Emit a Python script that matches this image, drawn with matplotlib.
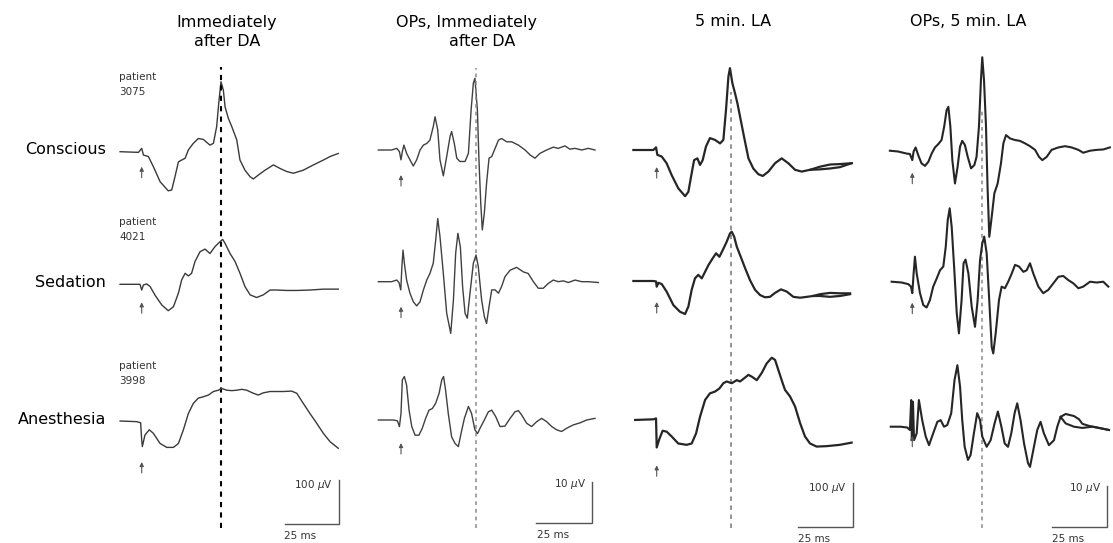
import numpy as np
import matplotlib.pyplot as plt

# Traces: (time after flash in ms, amplitude in µV)
# a/b-wave columns (100 µV scale) and OP columns (10 µV scale)
C1_CONSCIOUS = [(-10.0, 0), (-1.5, -1.5), (0, 7.6), (0.8, -7.6), (3.1, -11), (5.4, -34), (8.5, -68),
                (12.3, -89), (13.9, -87), (15.4, -57), (17.0, -23), (18.5, -19), (20.1, -15), (21.6, 4),
                (23.9, 19), (26.2, 30), (28.5, 28), (31.6, 15), (33.2, 19), (34.7, 57), (35.8, 117),
                (36.7, 159), (37.8, 140), (38.6, 102), (40.1, 76), (41.7, 57), (44.0, 27), (45.5, -19),
                (47.8, -42), (50.2, -57), (51.7, -62), (54.0, -53), (57.1, -42), (61.0, -30), (64.0, -38),
                (67.1, -45), (70.2, -49), (74.8, -42), (79.5, -30), (84.1, -19), (87.2, -11), (91.0, -4)]
C1_SEDATION = [(-10.0, 0), (-0.8, 0), (0, -13), (0.8, -1.5), (2.3, 0.8), (3.9, -5), (6.2, -25), (9.3, -47),
               (12.3, -60), (14.7, -51), (17.0, -20), (18.5, 10), (20.1, 25), (21.6, 19), (23.1, 25),
               (24.7, 52), (27.0, 74), (29.3, 80), (31.6, 70), (34.0, 86), (36.3, 97), (37.5, 102),
               (38.6, 93), (40.9, 70), (43.2, 52), (45.5, 25), (47.8, -5), (50.2, -24), (53.2, -30),
               (56.3, -24), (59.4, -13), (62.5, -13), (67.1, -14), (71.8, -14), (77.9, -13), (84.1, -11),
               (91.0, -11)]
C1_ANESTHESIA = [(-10.0, 0), (-2.3, -1.5), (-0.5, -4), (0, -43), (0.3, -58), (1.5, -32), (3.5, -20),
                 (5.4, -28), (8.5, -51), (11.6, -60), (14.7, -60), (17.0, -51), (19.3, -20), (21.6, 17),
                 (23.9, 40), (26.2, 52), (28.5, 55), (30.9, 59), (33.2, 67), (35.5, 70), (37.0, 74),
                 (39.4, 70), (41.7, 69), (44.0, 70), (46.3, 72), (48.6, 70), (51.7, 63), (54.0, 59),
                 (56.3, 64), (59.4, 67), (65.6, 67), (69.4, 68), (71.8, 63), (74.8, 40), (77.9, 17),
                 (81.0, -5), (84.1, -28), (87.2, -47), (91.0, -62)]

C2_CONSCIOUS = [(-10.1, 0), (-4.2, 0), (-1.9, 0.4), (-0.7, -0.4), (0, -2.4), (0.6, -0.4), (1.3, 1.2),
                (2.5, -0.8), (4.0, -2.4), (5.5, -3.9), (7.0, -2.4), (8.5, 0), (10.0, 1.2), (11.5, 1.6),
                (12.9, 2.4), (14.4, 5.7), (15.2, 8.1), (16.4, 4.9), (17.4, -2.4), (18.9, -6.3), (20.4, -1.6),
                (21.9, 3.3), (22.6, 4.5), (23.8, 1.6), (24.9, -2.0), (26.3, -2.8), (28.6, -2.8), (30.1, -0.8),
                (31.3, 9.8), (32.3, 16.3), (33.0, 17.5), (34.1, 9.8), (34.8, -2.4), (35.6, -12.9),
                (36.3, -19.5), (37.2, -15.4), (38.2, -8.1), (39.3, -2.0), (40.5, -1.6), (42.0, 0.4),
                (43.5, 2.4), (44.9, 2.8), (47.2, 2.0), (49.4, 2.0), (52.4, 1.2), (55.4, 0), (57.6, -1.2),
                (59.8, -2.0), (62.1, -0.8), (65.0, 0), (68.0, 0.7), (70.2, 0.4), (73.2, 1.0), (75.4, 0.2),
                (77.7, 0.4), (80.7, 0), (83.6, 0.4), (86.6, 0)]
C2_SEDATION = [(-10.1, 0), (-4.2, 0), (-1.9, 0.4), (-0.9, -0.2), (-0.1, -2.0), (0.4, 3.7), (0.9, 7.7),
               (1.5, 4.5), (2.5, 0.4), (4.0, -2.8), (5.5, -4.9), (7.0, -5.9), (8.5, -4.9), (10.0, -2.0),
               (11.5, 0.4), (12.9, 2.0), (14.4, 4.5), (15.5, 10.2), (16.4, 15.4), (17.4, 11.0), (18.9, 2.0),
               (20.4, -7.7), (22.2, -12.6), (23.4, -4.5), (24.4, 6.9), (25.4, 11.8), (26.5, 8.5),
               (27.5, -1.2), (28.6, -7.7), (29.6, -8.9), (30.8, -2.8), (32.3, 4.5), (33.5, 6.5), (34.5, 3.7),
               (36.0, -4.5), (37.2, -8.5), (38.2, -10.2), (39.3, -6.1), (40.5, -2.0), (42.0, -2.0),
               (43.5, -2.8), (44.9, -1.2), (46.4, 1.2), (48.7, 2.8), (51.6, 3.5), (54.6, 2.4), (56.8, 2.0),
               (59.1, 0), (61.3, -1.6), (63.5, -1.6), (65.8, -0.4), (68.0, 0.4), (70.2, 0), (72.5, 0.2),
               (74.7, -0.2), (77.7, 0.4), (80.7, 0), (83.6, 0), (88.1, -0.2)]
C2_ANESTHESIA = [(-10.1, 0), (-3.4, 0), (-1.6, -0.2), (-0.7, -1.6), (0, 1.6), (0.6, 9.8), (1.5, 10.6),
                 (2.5, 8.5), (3.6, 2.4), (4.8, -1.6), (6.3, -3.7), (8.0, -3.7), (9.5, -2.0), (11.0, 0.4),
                 (12.5, 2.4), (14.0, 2.8), (15.5, 4.1), (17.0, 6.5), (18.2, 9.8), (19.0, 10.6), (19.9, 7.3),
                 (21.1, 1.6), (22.6, -4.1), (24.1, -5.7), (25.6, -6.5), (26.8, -3.3), (28.3, 0.4),
                 (30.1, 3.3), (31.5, 1.6), (33.0, -2.4), (34.2, -3.3), (35.3, -2.0), (37.2, 0), (39.0, 2.0),
                 (40.5, 2.4), (42.3, 0.8), (44.2, -1.6), (46.4, -1.5), (48.7, 0.4), (50.9, 2.0), (52.4, 2.3),
                 (53.9, 1.2), (56.1, -0.8), (58.3, -1.6), (60.6, -0.4), (62.8, 0.4), (65.0, -0.4),
                 (67.3, -1.6), (69.5, -2.4), (71.7, -2.8), (74.0, -2.0), (76.9, -1.2), (79.9, -0.7),
                 (82.9, 0), (86.6, 0.4)]

C3_CONSCIOUS = [(-10.6, 0), (-1.5, 0), (-0.3, 6), (0.3, -11), (2.3, -15), (4.5, -30), (6.8, -57), (9.8, -87),
                (12.9, -105), (14.4, -95), (15.6, -61), (17.0, -23), (18.5, -19), (19.7, -34), (20.9, -23),
                (22.4, 8), (24.2, 27), (26.5, 23), (28.8, 15), (30.3, 23), (31.5, 91), (32.6, 167),
                (33.3, 186), (34.4, 152), (35.6, 129), (36.7, 106), (38.2, 68), (39.7, 30), (41.7, -19),
                (43.9, -42), (46.2, -55), (48.2, -59), (50.8, -49), (53.8, -30), (56.8, -19), (59.8, -30),
                (62.9, -45), (65.9, -49), (69.7, -45), (74.2, -44), (78.8, -42), (83.3, -39), (88.6, -30)]
C3_CONSCIOUS_B = [(69.7, -45), (74.2, -38), (78.8, -33), (83.3, -32), (88.6, -30)]
C3_SEDATION = [(-10.6, 0), (-1.5, 0), (-0.3, -1), (0, -13), (0.8, -4), (2.3, -7), (4.5, -24), (7.6, -55),
               (10.6, -70), (12.9, -75), (14.4, -58), (15.9, -20), (17.4, 6), (18.9, 14), (20.5, 6),
               (22.0, 21), (23.5, 36), (25.5, 52), (27.0, 63), (28.5, 55), (30.0, 70), (31.8, 89),
               (33.3, 108), (34.1, 112), (35.2, 101), (36.4, 78), (38.2, 55), (40.2, 29), (42.4, 2),
               (44.7, -20), (47.0, -32), (49.2, -37), (51.5, -36), (53.8, -27), (56.5, -19), (59.1, -24),
               (62.1, -36), (65.2, -38), (68.2, -36), (71.2, -34), (74.2, -30), (78.8, -27), (83.3, -28),
               (87.9, -28)]
C3_SEDATION_B = [(71.2, -34), (74.2, -34), (78.8, -36), (83.3, -34), (87.9, -30)]
C3_ANESTHESIA = [(-9.8, -1.5), (-1.5, 0), (-0.3, 2), (0, -64), (1.2, -45), (2.7, -26), (4.5, -28),
                 (6.8, -39), (9.8, -55), (13.6, -58), (15.9, -55), (17.9, -32), (19.7, 6), (22.0, 44),
                 (24.2, 59), (26.5, 63), (28.5, 70), (30.3, 82), (31.8, 86), (34.1, 82), (36.4, 89),
                 (37.9, 86), (39.7, 93), (41.7, 101), (43.2, 97), (45.5, 89), (47.7, 105), (50.0, 127),
                 (52.3, 140), (53.8, 135), (55.3, 112), (56.8, 89), (58.3, 67), (60.6, 52), (62.9, 29),
                 (65.2, -9), (67.4, -39), (69.7, -55), (72.7, -62), (77.3, -61), (83.3, -58), (88.6, -53)]

C4_CONSCIOUS = [(-10.2, 0), (-6.4, -0.2), (-2.6, -0.7), (-1.1, -0.8), (0, -2.3), (0.6, -0.2), (1.5, 0.8),
                (2.7, -1.1), (4.2, -3.1), (5.8, -3.7), (7.3, -2.7), (8.8, -0.7), (10.3, 0.8), (11.8, 1.6),
                (13.3, 2.6), (14.5, 5.9), (15.6, 9.9), (16.4, 10.7), (17.3, 5.9), (18.2, -2.3), (19.4, -8.0),
                (20.6, -3.9), (21.7, 1.0), (22.7, 2.4), (23.9, 1.4), (25.2, -1.5), (26.7, -4.3),
                (28.2, -3.5), (29.2, -1.5), (30.3, 5.9), (31.2, 17.2), (31.8, 22.8), (32.6, 17.2),
                (33.5, 5.9), (34.2, -8.8), (35.0, -21.0), (36.1, -16.1), (37.3, -10.4), (38.8, -8.0),
                (40.3, -3.1), (41.4, 1.8), (42.6, 3.8), (44.4, 3.0), (46.7, 2.6), (48.9, 2.4), (51.2, 1.8),
                (53.5, 1.1), (55.8, 0.2), (57.6, -1.5), (59.1, -2.3), (61.1, -1.5), (63.3, 0.2), (66.4, 0.8),
                (69.4, 1.1), (72.4, 0.8), (75.5, 0.2), (77.7, -0.5), (80.8, 0), (83.8, 0.2), (86.8, 0.3),
                (89.8, 0.8)]
C4_SEDATION = [(-9.4, 0), (-4.8, -0.2), (-1.8, -0.6), (-0.6, -1.2), (0, -2.8), (0.6, 2.0), (1.2, 6.1),
               (2.0, 2.0), (3.5, -2.8), (5.0, -5.7), (6.5, -6.3), (8.0, -4.5), (9.5, -1.2), (11.1, 0.8),
               (12.6, 2.8), (14.1, 3.7), (15.2, 8.5), (16.1, 15.0), (17.0, 17.9), (17.9, 13.4), (19.1, 2.8),
               (20.2, -7.7), (21.2, -12.6), (22.4, -4.5), (23.3, 4.5), (24.2, 5.4), (25.5, 2.0),
               (27.0, -6.1), (28.5, -11.0), (29.7, -4.5), (30.8, 5.3), (31.8, 9.3), (32.7, 11.0),
               (33.8, 6.9), (34.8, -2.8), (36.1, -15.9), (36.8, -17.5), (37.9, -12.6), (39.4, -4.5),
               (40.6, -1.2), (42.1, -1.6), (43.6, 0), (45.2, 2.0), (46.7, 4.1), (48.5, 3.7), (50.5, 2.4),
               (52.0, 2.8), (53.5, 4.5), (55.0, 2.0), (57.3, -1.2), (59.5, -2.8), (61.8, -2.0),
               (64.1, -0.4), (66.4, 1.2), (68.6, 1.4), (70.9, 0.4), (73.2, -0.4), (75.5, -1.6),
               (77.7, -1.2), (80.8, 0), (83.8, -0.2), (86.8, 0), (89.1, -1.2)]
C4_ANESTHESIA = [(-9.8, 0), (-5.3, 0), (-2.3, -0.2), (-1.1, -0.8), (-0.5, 6.5), (-0.2, -3.3), (0.3, 6.1),
                 (0.8, -3.3), (2.0, -1.6), (3.0, 6.5), (4.5, 1.6), (6.1, -2.4), (7.6, -4.5), (9.5, -1.6),
                 (11.4, 1.2), (12.9, 1.6), (14.4, 0), (15.9, 0.4), (17.7, 3.3), (19.2, 11.4), (20.5, 15.0),
                 (21.7, 9.8), (22.7, 1.6), (23.8, -4.9), (25.3, -8.1), (26.5, -6.9), (28.0, -1.6),
                 (29.5, 3.3), (30.8, 1.6), (31.8, -2.4), (33.8, -4.9), (35.6, -3.3), (37.4, 0.8),
                 (38.9, 3.7), (40.5, 0), (42.0, -4.1), (43.5, -4.9), (45.0, -1.6), (46.5, 3.3), (47.7, 5.7),
                 (49.2, 1.6), (50.8, -4.1), (52.6, -8.9), (53.5, -9.8), (55.0, -5.7), (56.8, -0.8),
                 (58.3, 1.2), (59.8, -1.6), (62.1, -4.5), (64.4, -3.3), (65.9, 0), (67.4, 2.4), (69.7, 3.1),
                 (73.5, 2.6), (75.8, 1.8), (77.3, 0.7), (80.3, 0.2), (84.1, -0.2), (89.4, -0.8)]
C4_ANESTHESIA_B = [(67.4, 2.4), (69.7, 0.8), (73.5, 0), (77.3, -0.3), (81.8, 0), (85.6, -0.4), (89.4, -0.8)]

titles = [["Immediately", "after DA"], ["OPs, Immediately", "after DA"], ["5 min. LA"], ["OPs, 5 min. LA"]]
rows = ["Conscious", "Sedation", "Anesthesia"]
patients = ["3075", "4021", "3998"]
dash_ms = [36.7, 33.5, 33.8, 31.7]
scale_uv = [100, 10, 100, 10]

traces = [
    [[C1_CONSCIOUS], [C1_SEDATION], [C1_ANESTHESIA]],
    [[C2_CONSCIOUS], [C2_SEDATION], [C2_ANESTHESIA]],
    [[C3_CONSCIOUS, C3_CONSCIOUS_B], [C3_SEDATION, C3_SEDATION_B], [C3_ANESTHESIA]],
    [[C4_CONSCIOUS], [C4_SEDATION], [C4_ANESTHESIA, C4_ANESTHESIA_B]],
]

# layout (pixels of the 1113x543 image)
W, H = 1113, 543
cols = [
    dict(flash=141.7, base=[151.7, 284.3, 421.0], ppm=2.16, ppu=0.44, lw=1.0, color="#3a3a3a",
         arrow=[15, 18, 41], dash_top=67, dash_c="black", dash_lw=1.5, corner=(339, 524),
         title_x=[227, 227]),
    dict(flash=401.0, base=[150.0, 281.7, 420.0], ppm=2.24, ppu=4.1, lw=1.0, color="#404040",
         arrow=[25, 25, 23], dash_top=68, dash_c="#8a8a8a", dash_lw=1.1, corner=(592, 523),
         title_x=[466, 482]),
    dict(flash=656.7, base=[150.0, 281.0, 419.3], ppm=2.2, ppu=0.44, lw=1.6, color="#262626",
         arrow=[17, 21, 46], dash_top=92, dash_c="#8a8a8a", dash_lw=1.3, corner=(853, 527),
         title_x=[733]),
    dict(flash=912.3, base=[150.7, 281.7, 426.7], ppm=2.2, ppu=4.1, lw=1.5, color="#262626",
         arrow=[22, 21, 9], dash_top=108, dash_c="#8a8a8a", dash_lw=1.1, corner=(1107, 527),
         title_x=[968]),
]


def fx(x):
    return x / W


def fy(y):
    return 1 - y / H


fig = plt.figure(figsize=(W / 100, H / 100), dpi=100)

for ci, c in enumerate(cols):
    for ri in range(3):
        base = c["base"][ri]
        ax = fig.add_axes([0, 0, 1, 1])
        ax.set_xlim(-c["flash"] / c["ppm"], (W - c["flash"]) / c["ppm"])
        ax.set_ylim((base - H) / c["ppu"], base / c["ppu"])
        ax.axis("off")
        ax.patch.set_alpha(0)
        for tr in traces[ci][ri]:
            t, v = np.array(tr).T
            ax.plot(t, v, color=c["color"], lw=c["lw"], solid_joinstyle="round")
        # flash arrow
        head = -c["arrow"][ri] / c["ppu"]
        tail = -(c["arrow"][ri] + 11) / c["ppu"]
        ax.annotate("", xy=(0, head), xytext=(0, tail),
                    arrowprops=dict(arrowstyle="-|>", color="#555555", lw=0.8,
                                    mutation_scale=6, shrinkA=0, shrinkB=0))
        if ri == 0:
            ax.axvline(dash_ms[ci], ymin=fy(528), ymax=fy(c["dash_top"]), color=c["dash_c"],
                       lw=c["dash_lw"], linestyle=(0, (2.5, 2.5)))
        if ri == 2:
            # scale bars
            xc, yc = c["corner"]
            tc = (xc - c["flash"]) / c["ppm"]
            vc = (base - yc) / c["ppu"]
            ax.plot([tc - 25, tc, tc], [vc, vc, vc + scale_uv[ci]], color="#555555", lw=1.0,
                    solid_joinstyle="miter")
            fig.text(fx(xc - 6), fy(yc - 39), rf"{scale_uv[ci]} $\mu$V", ha="right", va="center",
                     fontsize=7.5, color="#333333")
            fig.text(fx(xc - 55), fy(yc + 12), "25 ms", ha="left", va="center", fontsize=7.5,
                     color="#333333")

    for li, line in enumerate(titles[ci]):
        fig.text(fx(c["title_x"][li]), fy(22 + 20 * li), line, ha="center", va="center", fontsize=11.5)

# row labels and patient ids
for ri, (name, pid) in enumerate(zip(rows, patients)):
    base = cols[0]["base"][ri]
    fig.text(fx(106), fy(base - 2), name, ha="right", va="center", fontsize=11.5)
    ptop = [77, 222, 366][ri]
    fig.text(fx(119), fy(ptop), "patient", ha="left", va="center", fontsize=7.5, color="#333333")
    fig.text(fx(119), fy(ptop + 15), pid, ha="left", va="center", fontsize=7.5, color="#333333")

fig.savefig("out.png", dpi=100)
